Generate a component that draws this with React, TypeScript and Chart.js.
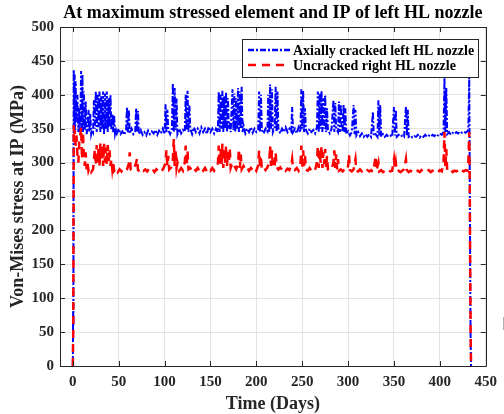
import React, { useEffect, useRef } from "react";
import { Chart, registerables } from "chart.js";

Chart.register(...registerables);

const chartTitle = "At maximum stressed element and IP of left HL nozzle";
const xAxisTitle = "Time (Days)";
const yAxisTitle = "Von-Mises stress at IP (MPa)";
const xTickValues = [0, 50, 100, 150, 200, 250, 300, 350, 400, 450];
const yTickValues = [0, 50, 100, 150, 200, 250, 300, 350, 400, 450, 500];
const seriesNames = ["Axially cracked left HL nozzle", "Uncracked right HL nozzle"];

// [day, stress MPa] - axially cracked left HL nozzle
const crackedLeft: number[][] = [
  [0, 0], [0.3, 80], [0.6, 60], [1, 437], [1.5, 350], [2, 430], [2.5, 345], [3, 420], [4, 360], [5, 400],
  [6, 345], [7, 380], [8, 345], [9, 435], [10, 350], [10.5, 430], [11, 345], [12, 405], [13, 348], [14, 390],
  [15, 342], [16, 350], [17, 378], [18, 345], [19, 372], [20, 342], [21, 348], [22, 345], [23, 392], [24, 350],
  [25, 405], [26, 345], [27, 400], [28, 352], [29, 405], [30, 345], [31, 398], [32, 350], [33, 405], [34, 342],
  [35, 402], [36, 350], [37, 405], [38, 345], [39, 395], [40, 352], [41, 400], [42, 348], [43, 372], [44, 345],
  [45, 370], [46, 342], [47, 348], [48, 343], [50, 350], [52, 342], [54, 346], [56, 341], [58, 348], [59, 382],
  [60, 345], [61, 378], [62, 343], [64, 350], [66, 342], [68, 346], [69, 380], [70, 345], [71, 376], [72, 342],
  [74, 348], [76, 341], [78, 345], [80, 340], [82, 347], [84, 342], [86, 346], [88, 343], [90, 348], [92, 341],
  [94, 347], [96, 343], [98, 350], [100, 342], [101, 386], [102, 345], [103, 378], [104, 348], [106, 342], [108, 350],
  [109, 417], [110, 345], [111, 410], [112, 348], [113, 395], [114, 342], [116, 350], [118, 343], [120, 348], [122, 345],
  [123, 400], [124, 348], [125, 406], [126, 345], [127, 385], [128, 350], [130, 342], [132, 352], [134, 345], [136, 350],
  [138, 343], [140, 352], [142, 345], [144, 350], [146, 342], [148, 353], [150, 345], [152, 350], [154, 343], [156, 350],
  [158, 345], [159, 405], [160, 345], [161, 400], [162, 350], [163, 406], [164, 345], [165, 398], [166, 350], [167, 404],
  [168, 345], [169, 395], [170, 350], [171, 360], [172, 345], [174, 408], [175, 348], [176, 402], [177, 345], [178, 395],
  [179, 350], [180, 410], [181, 345], [182, 405], [183, 350], [184, 412], [185, 345], [186, 355], [188, 343], [190, 350],
  [192, 345], [194, 352], [196, 344], [198, 350], [200, 345], [202, 348], [203, 405], [204, 345], [205, 400], [206, 348],
  [208, 343], [210, 350], [212, 346], [213, 400], [214, 345], [215, 415], [216, 350], [217, 408], [218, 345], [220, 352],
  [221, 412], [222, 345], [223, 405], [224, 350], [226, 343], [228, 350], [230, 345], [232, 352], [234, 345], [236, 350],
  [238, 346], [239, 382], [240, 345], [242, 350], [244, 343], [246, 352], [248, 345], [249, 408], [250, 350], [251, 406],
  [252, 345], [253, 380], [254, 348], [256, 343], [258, 350], [260, 345], [262, 348], [264, 343], [266, 352], [267, 405],
  [268, 345], [269, 402], [270, 350], [271, 406], [272, 345], [273, 395], [274, 350], [275, 400], [276, 345], [277, 380],
  [278, 348], [280, 343], [282, 350], [284, 392], [285, 345], [286, 388], [287, 350], [289, 345], [290, 390], [291, 345],
  [292, 386], [293, 350], [294, 345], [295, 385], [296, 345], [297, 380], [298, 342], [300, 346], [302, 340], [304, 345],
  [306, 385], [307, 342], [308, 378], [309, 340], [311, 345], [313, 339], [315, 343], [317, 338], [319, 342], [321, 338],
  [323, 342], [325, 338], [327, 375], [328, 340], [330, 342], [332, 338], [333, 392], [334, 340], [335, 385], [336, 338],
  [338, 342], [340, 338], [342, 341], [344, 338], [346, 340], [348, 338], [350, 382], [351, 340], [352, 378], [353, 338],
  [355, 341], [357, 338], [359, 340], [361, 338], [363, 383], [364, 340], [365, 378], [366, 338], [368, 340], [370, 337],
  [372, 339], [374, 338], [376, 341], [378, 337], [380, 340], [382, 338], [384, 341], [386, 338], [388, 340], [390, 338],
  [392, 341], [394, 339], [396, 342], [398, 340], [400, 343], [402, 341], [404, 345], [405, 425], [406, 345], [407, 410],
  [408, 342], [410, 345], [412, 341], [414, 344], [416, 342], [418, 345], [420, 343], [422, 346], [424, 344], [426, 346],
  [428, 344], [430, 346], [431, 350], [432, 425], [432.5, 300], [433, 150], [433.5, 40], [434, 0],
];

// [day, stress MPa] - uncracked right HL nozzle
const uncrackedRight: number[][] = [
  [0, 0], [0.5, 60], [1, 355], [1.5, 330], [2, 348], [3, 325], [4, 340], [5, 310], [6, 300], [7, 330],
  [8, 340], [9, 352], [10, 305], [11, 345], [12, 310], [13, 295], [14, 315], [15, 290], [16, 300], [17, 288],
  [18, 292], [20, 286], [22, 290], [23, 305], [24, 320], [25, 296], [26, 326], [27, 300], [28, 322], [29, 295],
  [30, 328], [31, 302], [32, 325], [33, 295], [34, 328], [35, 300], [36, 322], [37, 296], [38, 326], [39, 302],
  [40, 318], [41, 295], [42, 305], [43, 290], [44, 300], [45, 288], [47, 292], [49, 286], [51, 290], [53, 287],
  [55, 291], [57, 288], [59, 290], [61, 298], [62, 315], [63, 290], [65, 288], [67, 292], [69, 300], [70, 306],
  [71, 289], [73, 287], [75, 291], [77, 288], [79, 290], [81, 287], [83, 291], [85, 288], [87, 290], [89, 286],
  [91, 290], [93, 287], [95, 290], [97, 288], [99, 292], [101, 300], [102, 318], [103, 295], [104, 310], [105, 290],
  [107, 293], [109, 305], [110, 335], [111, 295], [112, 320], [113, 292], [114, 300], [116, 288], [118, 292], [120, 288],
  [122, 300], [123, 325], [124, 295], [125, 318], [126, 290], [128, 292], [130, 287], [132, 291], [134, 288], [136, 292],
  [138, 287], [140, 291], [142, 288], [144, 292], [146, 287], [148, 291], [150, 288], [152, 292], [154, 288], [156, 292],
  [158, 296], [159, 325], [160, 295], [161, 320], [162, 298], [163, 328], [164, 292], [165, 318], [166, 300], [167, 325],
  [168, 295], [169, 315], [170, 300], [171, 322], [172, 292], [174, 300], [176, 295], [178, 290], [180, 298], [181, 320],
  [182, 292], [183, 312], [184, 290], [186, 295], [188, 290], [190, 293], [192, 288], [194, 292], [196, 289], [198, 293],
  [200, 288], [202, 296], [203, 318], [204, 292], [205, 310], [206, 290], [208, 293], [210, 289], [212, 293], [214, 300],
  [215, 325], [216, 295], [217, 318], [218, 292], [220, 296], [221, 315], [222, 294], [224, 290], [226, 293], [228, 289],
  [230, 292], [232, 288], [234, 291], [236, 289], [238, 296], [239, 305], [240, 290], [242, 289], [244, 292], [246, 288],
  [248, 296], [249, 325], [250, 292], [251, 318], [252, 295], [253, 310], [254, 290], [256, 288], [258, 292], [260, 288],
  [262, 291], [264, 289], [266, 300], [267, 325], [268, 292], [269, 318], [270, 300], [271, 325], [272, 292], [273, 315],
  [274, 298], [275, 320], [276, 292], [277, 310], [278, 290], [280, 288], [282, 291], [284, 300], [285, 318], [286, 292],
  [287, 312], [288, 290], [289, 305], [290, 288], [292, 290], [294, 287], [296, 290], [298, 288], [300, 295], [301, 312],
  [302, 289], [304, 287], [306, 290], [308, 305], [309, 288], [311, 287], [313, 290], [315, 287], [317, 289], [319, 286],
  [321, 289], [323, 287], [325, 289], [327, 286], [329, 300], [330, 310], [331, 288], [333, 300], [334, 287], [336, 289],
  [338, 286], [340, 288], [342, 286], [344, 289], [346, 287], [348, 288], [350, 305], [351, 290], [352, 300], [353, 287],
  [355, 288], [357, 286], [359, 288], [361, 290], [363, 305], [364, 289], [366, 286], [368, 288], [370, 286], [372, 289],
  [374, 287], [376, 288], [378, 286], [380, 289], [382, 286], [384, 288], [386, 287], [388, 289], [390, 286], [392, 288],
  [394, 287], [396, 289], [398, 286], [400, 289], [402, 287], [404, 300], [405, 345], [406, 292], [407, 320], [408, 288],
  [410, 287], [412, 289], [414, 286], [416, 288], [418, 287], [420, 289], [422, 286], [424, 289], [426, 287], [428, 289],
  [430, 288], [431, 300], [432, 345], [432.5, 280], [433, 150], [433.5, 50], [434, 0],
];

const FONT = "'Liberation Serif', 'Times New Roman', serif";
const INK = "#262626";
const BLUE = "#0000ff";
const RED = "#ff0000";
const BLUE_DASH = [6, 2, 2, 2];
const RED_DASH = [8, 6];

const decorPlugin = {
  id: "decor",
  beforeDraw(chart: any) {
    const ctx = chart.ctx;
    ctx.save();
    ctx.fillStyle = "#ffffff";
    ctx.fillRect(0, 0, chart.width, chart.height);
    ctx.restore();
  },
  afterDraw(chart: any) {
    const ctx = chart.ctx;
    const area = chart.chartArea;
    const xs = chart.scales.x;
    const ys = chart.scales.y;
    ctx.save();
    // box
    ctx.strokeStyle = INK;
    ctx.lineWidth = 1;
    ctx.setLineDash([]);
    ctx.beginPath();
    ctx.rect(Math.round(area.left) + 0.5, Math.round(area.top) + 0.5, Math.round(area.right - area.left), Math.round(area.bottom - area.top));
    ctx.stroke();
    // inward ticks
    const tl = 5;
    ctx.beginPath();
    xTickValues.forEach((v) => {
      const px = Math.round(xs.getPixelForValue(v)) + 0.5;
      ctx.moveTo(px, area.bottom);
      ctx.lineTo(px, area.bottom - tl);
      ctx.moveTo(px, area.top);
      ctx.lineTo(px, area.top + tl);
    });
    yTickValues.forEach((v) => {
      const py = Math.round(ys.getPixelForValue(v)) + 0.5;
      ctx.moveTo(area.left, py);
      ctx.lineTo(area.left + tl, py);
      ctx.moveTo(area.right, py);
      ctx.lineTo(area.right - tl, py);
    });
    ctx.stroke();

    // title
    ctx.fillStyle = "#000000";
    ctx.font = `bold 18px ${FONT}`;
    ctx.textAlign = "center";
    ctx.textBaseline = "middle";
    ctx.fillText(chartTitle, (area.left + area.right) / 2, 13);

    // axis titles
    ctx.fillStyle = INK;
    ctx.font = `bold 18px ${FONT}`;
    ctx.fillText(xAxisTitle, (area.left + area.right) / 2, 404);
    ctx.save();
    ctx.translate(18, (area.top + area.bottom) / 2);
    ctx.rotate(-Math.PI / 2);
    ctx.fillText(yAxisTitle, 0, 0);
    ctx.restore();

    // legend
    const lx = 242, ly = 39, lw = 236, lh = 38;
    ctx.fillStyle = "#ffffff";
    ctx.fillRect(lx, ly, lw, lh);
    ctx.strokeStyle = INK;
    ctx.lineWidth = 1;
    ctx.strokeRect(lx + 0.5, ly + 0.5, lw, lh);
    const rows = [
      { name: seriesNames[0], color: BLUE, dash: BLUE_DASH, width: 2.5, y: ly + 11 },
      { name: seriesNames[1], color: RED, dash: RED_DASH, width: 2.5, y: ly + 26 },
    ];
    rows.forEach((r) => {
      ctx.strokeStyle = r.color;
      ctx.lineWidth = r.width;
      ctx.setLineDash(r.dash);
      ctx.beginPath();
      ctx.moveTo(lx + 6, r.y);
      ctx.lineTo(lx + 48, r.y);
      ctx.stroke();
      ctx.setLineDash([]);
      ctx.fillStyle = "#000000";
      ctx.font = `bold 14px ${FONT}`;
      ctx.textAlign = "left";
      ctx.textBaseline = "middle";
      ctx.fillText(r.name, lx + 51, r.y + 1);
    });

    // small gray mark at right edge
    ctx.strokeStyle = "#b0b0b0";
    ctx.lineWidth = 1;
    ctx.beginPath();
    ctx.moveTo(503.5, 317);
    ctx.lineTo(503.5, 330);
    ctx.stroke();
    ctx.restore();
  },
};

export default function App() {
  const ref = useRef<HTMLCanvasElement | null>(null);
  useEffect(() => {
    document.body.style.margin = "0";
    const canvas = ref.current;
    if (!canvas) return;
    const chart = new Chart(canvas, {
      type: "line",
      data: {
        datasets: [
          {
            label: seriesNames[0],
            data: crackedLeft.map((p) => ({ x: p[0], y: p[1] })),
            borderColor: BLUE,
            borderWidth: 2,
            borderDash: BLUE_DASH,
            pointRadius: 0,
            tension: 0,
            fill: false,
            order: 1,
          },
          {
            label: seriesNames[1],
            data: uncrackedRight.map((p) => ({ x: p[0], y: p[1] })),
            borderColor: RED,
            borderWidth: 2.5,
            borderDash: RED_DASH,
            pointRadius: 0,
            tension: 0,
            fill: false,
            order: 0,
          },
        ],
      },
      plugins: [decorPlugin],
      options: {
        responsive: false,
        animation: false,
        devicePixelRatio: 1,
        layout: { padding: { left: 0, right: 13, top: 27, bottom: 0 } },
        plugins: {
          legend: { display: false },
          title: { display: false },
          tooltip: { enabled: false },
        },
        scales: {
          x: {
            type: "linear",
            min: -14,
            max: 450,
            afterBuildTicks: (scale: any) => {
              scale.ticks = xTickValues.map((v) => ({ value: v }));
            },
            afterFit: (scale: any) => {
              scale.height = 48;
            },
            grid: { color: "#e3e3e3", drawTicks: false, lineWidth: 1 },
            border: { display: true, color: INK },
            ticks: {
              color: INK,
              padding: 7,
              maxRotation: 0,
              autoSkip: false,
              font: { family: FONT, size: 15, weight: "bold" },
            },
          },
          y: {
            type: "linear",
            min: 0,
            max: 500,
            afterBuildTicks: (scale: any) => {
              scale.ticks = yTickValues.map((v) => ({ value: v }));
            },
            afterFit: (scale: any) => {
              scale.width = 60;
            },
            grid: { color: "#e3e3e3", drawTicks: false, lineWidth: 1 },
            border: { display: true, color: INK },
            ticks: {
              color: INK,
              padding: 6,
              autoSkip: false,
              font: { family: FONT, size: 15, weight: "bold" },
            },
          },
        },
      },
    } as any);
    return () => chart.destroy();
  }, []);
  return (
    <div style={{ position: "absolute", left: 0, top: 0, width: 504, height: 414 }}>
      <canvas ref={ref} width={504} height={414} style={{ display: "block", width: 504, height: 414 }} />
    </div>
  );
}
